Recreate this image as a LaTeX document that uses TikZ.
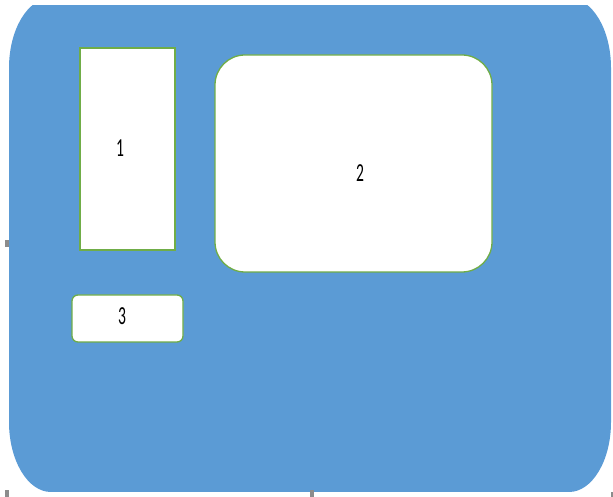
\documentclass[tikz,border=0pt]{standalone}
\usepackage{xcolor}
\usepackage{fontspec}
\setmainfont{Carlito}
\usepackage{tikz}
\usetikzlibrary{positioning}
\definecolor{slide}{HTML}{5B9BD5}
\definecolor{edge}{HTML}{70AD47}
\definecolor{handle}{HTML}{8C8C8C}
\newcommand{\digit}[1]{\scalebox{0.6}[1]{\fontsize{26}{26}\selectfont #1}}

\begin{document}
\begin{tikzpicture}[x=1pt, y=1pt,
    panel/.style={draw=edge, line width=1.3pt, fill=white, inner sep=0pt},
    grip/.style={fill=handle, draw=none}]
        \useasboundingbox (0,0) rectangle (613,497);
        % Background slide shape with elliptic corners, cut off at the top
        \begin{scope}
            \clip (0,0) rectangle (613,491);
            \fill[slide] (9,75) -- (9,429) arc[start angle=180, end angle=90, x radius=42, y radius=70]
                -- (569,499) arc[start angle=90, end angle=0, x radius=42, y radius=70]
                -- (611,75) arc[start angle=0, end angle=-90, x radius=42, y radius=70]
                -- (51,5) arc[start angle=270, end angle=180, x radius=42, y radius=70] -- cycle;
        \end{scope}
        
        \node[panel, minimum width=95, minimum height=202] (box1) at (127.5,348) {};
        \node[panel, rounded corners=30, minimum width=277, minimum height=217] (box2) at (353.5,333.5) {};
        \node[panel, rounded corners=6, minimum width=111, minimum height=47] (box3) at (127.5,178.5) {};
        
        \node (num1) at (120,349) {\digit{1}};
        \node (num2) at (360,324) {\digit{2}};
        \node (num3) at (122,181) {\digit{3}};
        
        % selection handles
        \fill[grip] (4.5,250) rectangle (9,257);
        \fill[grip] (5,0) rectangle (8.5,7);
        \fill[grip] (309.5,0) rectangle (313.5,7);
        \fill[grip] (611,0) rectangle (613,5);
    \end{tikzpicture}
\end{document}
